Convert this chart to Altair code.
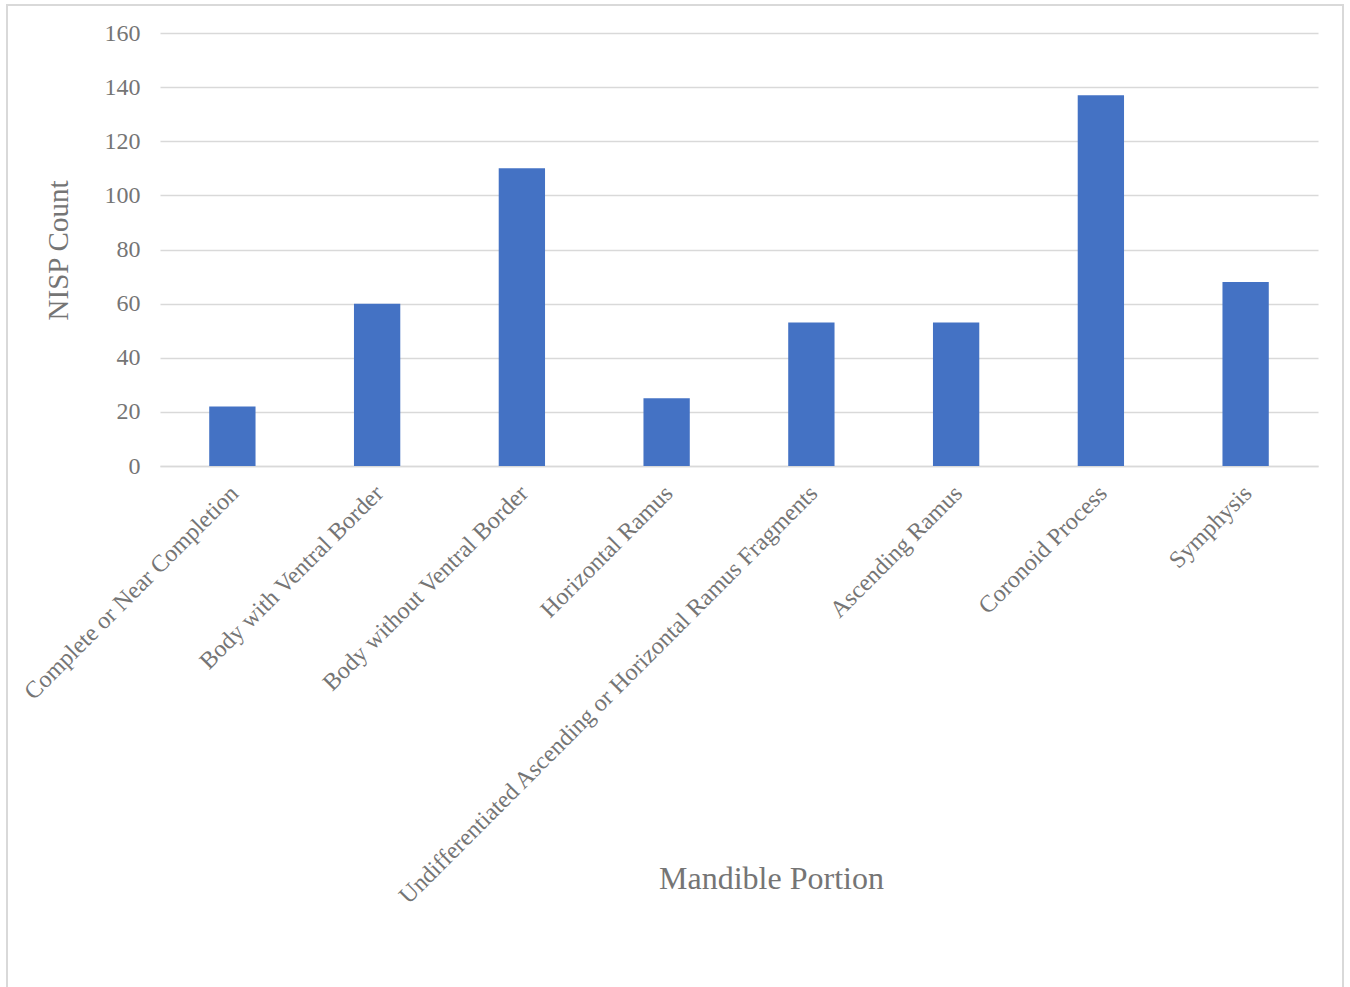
import altair as alt
import pandas as pd

categories = [
    "Complete or Near Completion",
    "Body with Ventral Border",
    "Body without Ventral Border",
    "Horizontal Ramus",
    "Undifferentiated Ascending or Horizontal Ramus Fragments",
    "Ascending Ramus",
    "Coronoid Process",
    "Symphysis",
]
counts = [22, 60, 110, 25, 53, 53, 137, 68]
y_ticks = [0, 20, 40, 60, 80, 100, 120, 140, 160]

df = pd.DataFrame({"portion": categories, "count": counts})

FONT = "Liberation Serif"
GRAY = "#757575"
GRID = "#d9d9d9"

bars = alt.Chart(df).mark_bar(color="#4472C4").encode(
    x=alt.X(
        "portion:N",
        sort=categories,
        scale=alt.Scale(paddingInner=0.68, paddingOuter=0.34),
        axis=alt.Axis(
            title="Mandible  Portion",
            labelAngle=-45,
            labelFontSize=24,
            labelFont=FONT,
            labelColor=GRAY,
            labelPadding=15,
            labelOffset=-6,
            ticks=False,
            domain=True,
            domainColor=GRID,
            domainWidth=1.5,
            labelLimit=1000,
            titleFont=FONT,
            titleFontSize=32,
            titleFontWeight="normal",
            titleColor=GRAY,
            titleX=611,
            titleY=412,
            titleAlign="center",
            titleBaseline="middle",
            titleAnchor="start",
        ),
    ),
    y=alt.Y(
        "count:Q",
        scale=alt.Scale(domain=[0, 160]),
        axis=alt.Axis(
            title="NISP Count",
            values=y_ticks,
            labelFontSize=24,
            labelFont=FONT,
            labelColor=GRAY,
            labelPadding=20,
            ticks=False,
            domain=False,
            grid=True,
            gridColor=GRID,
            gridWidth=1.5,
            titleFont=FONT,
            titleFontSize=29,
            titleFontWeight="normal",
            titleColor=GRAY,
            titleX=-102,
            titleY=217,
            titleAngle=-90,
            titleAlign="center",
            titleBaseline="middle",
            titleAnchor="start",
        ),
    ),
)

border = alt.Chart(pd.DataFrame({"a": [0]})).mark_rect(
    fill=None, stroke=GRID, strokeWidth=2
).encode(
    x=alt.value(-153),
    x2=alt.value(1183),
    y=alt.value(-28),
    y2=alt.value(1000),
)

chart = alt.layer(border, bars).properties(
    width=1158,
    height=433,
    autosize=alt.AutoSizeParams(type="none"),
    padding={"left": 160, "top": 33, "right": 32, "bottom": 521},
    background="white",
).configure_view(stroke=None)

chart.save("out.html", embed_options={"renderer": "svg", "actions": False})
